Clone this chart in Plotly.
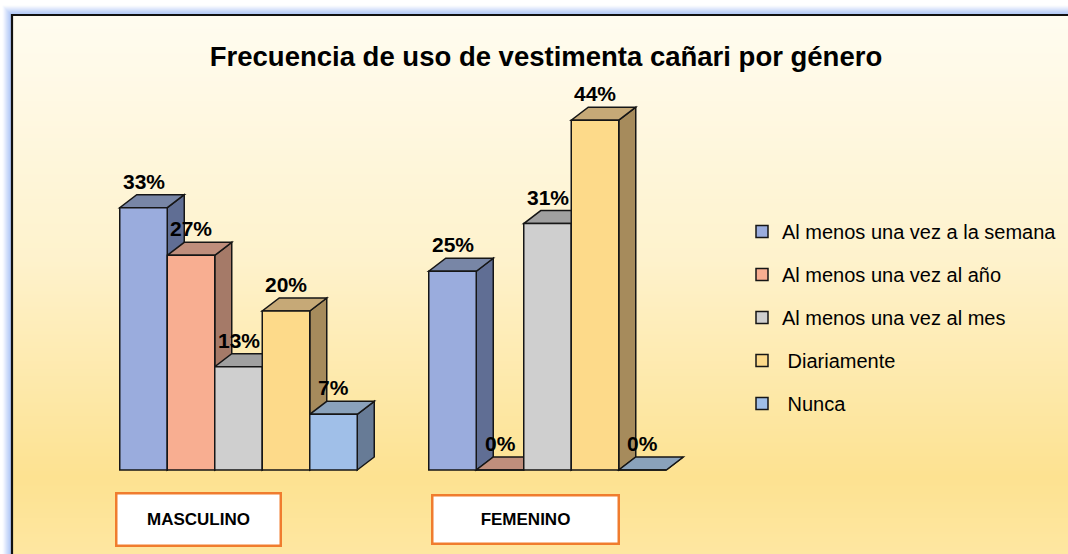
import base64, struct, zlib
import plotly.graph_objects as go

# ---------------- data ----------------
categories = ["MASCULINO", "FEMENINO"]
series_names = [
    "Al menos una vez a la semana",
    "Al menos una vez al año",
    "Al menos una vez al mes",
    " Diariamente",
    " Nunca",
]
semana = [33, 25]
anio = [27, 0]
mes = [13, 31]
diario = [20, 44]
nunca = [7, 0]
values = [semana, anio, mes, diario, nunca]
title_text = "Frecuencia de uso de vestimenta cañari por género"

# ---------------- style ----------------
W, H = 1068, 554
front = ["#9aacdd", "#f8ae91", "#cfcfcf", "#fdda8a", "#a0bfe8"]
side = ["#606e94", "#a57a68", "#8e8e8e", "#a68b5c", "#677b96"]
top = ["#7886a6", "#bf8e7c", "#a0a0a0", "#c6a977", "#8aa2bb"]
edge = "#161616"
FONT = "Liberation Sans, Arial, sans-serif"

BARGAP = 0.2314
n = len(values)
bw = (1 - BARGAP) / n
# axis geometry (pixel based)
PX_PER_UNIT = 309.0
X0 = -238.5 / PX_PER_UNIT
X1 = X0 + W / PX_PER_UNIT
PX_PER_PCT = 7.95
BASE_PX = 470
Y0 = -(H - BASE_PX) / PX_PER_PCT
Y1 = BASE_PX / PX_PER_PCT
DX = 17 / PX_PER_UNIT
DY = 13 / PX_PER_PCT


def png_gradient(stops, h):
    def col(t):
        for (t0, c0), (t1, c1) in zip(stops[:-1], stops[1:]):
            if t0 <= t <= t1:
                f = (t - t0) / (t1 - t0) if t1 > t0 else 0
                return tuple(int(round(c0[k] + (c1[k] - c0[k]) * f)) for k in range(3))
        return stops[-1][1]
    raw = b""
    for r in range(h):
        c = col(r / (h - 1))
        raw += b"\x00" + bytes(c) * 2
    def chunk(t, d):
        return struct.pack(">I", len(d)) + t + d + struct.pack(">I", zlib.crc32(t + d) & 0xFFFFFFFF)
    png = b"\x89PNG\r\n\x1a\n" + chunk(b"IHDR", struct.pack(">IIBBBBB", 2, h, 8, 2, 0, 0, 0))
    png += chunk(b"IDAT", zlib.compress(raw)) + chunk(b"IEND", b"")
    return "data:image/png;base64," + base64.b64encode(png).decode()


def hexrgb(h):
    h = h.lstrip("#")
    return tuple(int(h[i:i + 2], 16) for i in (0, 2, 4))


bg = png_gradient([
    (0.0, hexrgb("#fffcf0")),
    (0.45, hexrgb("#fef2cc")),
    (0.85, hexrgb("#fde291")),
    (1.0, hexrgb("#fee7a2")),
], 540)

fig = go.Figure()
xs = list(range(len(categories)))
for s, (name, vals) in enumerate(zip(series_names, values)):
    fig.add_trace(go.Bar(
        x=xs, y=vals, name=name, legendgroup=name,
        marker=dict(color=front[s], line=dict(color=edge, width=1.5)),
        hoverinfo="skip",
    ))

shapes = []
annotations = []
# 3D faces computed from data values
for g in xs:
    for s in range(n):
        v = values[s][g]
        xc = g + (s - (n - 1) / 2) * bw
        xl, xr = xc - bw / 2, xc + bw / 2
        side_path = f"M{xr},0 L{xr+DX},{DY} L{xr+DX},{v+DY} L{xr},{v} Z"
        top_path = f"M{xl},{v} L{xr},{v} L{xr+DX},{v+DY} L{xl+DX},{v+DY} Z"
        shapes.append(dict(type="path", xref="x", yref="y", path=side_path, layer="below",
                           fillcolor=side[s], line=dict(color=edge, width=1.5)))
        shapes.append(dict(type="path", xref="x", yref="y", path=top_path, layer="below",
                           fillcolor=top[s], line=dict(color=edge, width=1.5)))
        annotations.append(dict(x=xc, y=v + DY, xref="x", yref="y", text=f"<b>{v}%</b>",
                                showarrow=False, yanchor="bottom", yshift=0,
                                font=dict(family=FONT, size=21, color="#000000")))

# frame with blue glow
def px(x):
    return x / W


def py(y):
    return 1 - y / H


for k in range(1, 10):
    a = 0.95 * (1 - (k - 1) / 9) ** 1.3
    shapes.append(dict(type="rect", xref="paper", yref="paper", layer="below",
                       x0=px(12 - k), y0=py(H + 20), x1=px(W + 20), y1=py(15 - k),
                       line=dict(color=f"rgba(150,180,245,{a:.3f})", width=1.1),
                       fillcolor="rgba(0,0,0,0)"))
shapes.append(dict(type="rect", xref="paper", yref="paper", layer="above",
                   x0=px(12), y0=py(H + 20), x1=px(W + 20), y1=py(15),
                   line=dict(color="#111111", width=2.2), fillcolor="rgba(0,0,0,0)"))

# category boxes
box_centers = [(198.5, 519, 162, 50), (525.5, 519, 184, 46)]
for cat, (cx, cy, bwid, bht) in zip(categories, box_centers):
    annotations.append(dict(x=px(cx), y=py(cy), xref="paper", yref="paper", text=f"<b>{cat}</b>",
                            showarrow=False, xanchor="center", yanchor="middle",
                            width=bwid, height=bht, bgcolor="#ffffff",
                            bordercolor="#f07c2e", borderwidth=2.5, borderpad=0,
                            font=dict(family=FONT, size=17, color="#000000")))

fig.update_layout(
    width=W, height=H,
    margin=dict(l=0, r=0, t=0, b=0),
    paper_bgcolor="#ffffff",
    plot_bgcolor="rgba(0,0,0,0)",
    barmode="group", bargap=BARGAP, bargroupgap=0,
    xaxis=dict(range=[X0, X1], visible=False, fixedrange=True),
    yaxis=dict(range=[Y0, Y1], visible=False, fixedrange=True),
    title=dict(text=f"<b>{title_text}</b>", x=px(546), xanchor="center",
               y=py(56), yanchor="middle", yref="container",
               font=dict(family=FONT, size=27.5, color="#000000")),
    legend=dict(x=px(742), y=py(212), xanchor="left", yanchor="top",
                bgcolor="rgba(0,0,0,0)", tracegroupgap=14,
                font=dict(family=FONT, size=20, color="#000000")),
    images=[dict(source=bg, xref="paper", yref="paper", x=px(13), y=py(16),
                 sizex=px(W - 13 + 5), sizey=(H - 16 + 5) / H, sizing="stretch",
                 xanchor="left", yanchor="top", layer="below")],
    shapes=shapes,
    annotations=annotations,
    showlegend=True,
)

fig.write_html("out.html", config={"displayModeBar": False},
               post_script="document.body.style.margin='0';document.body.style.overflow='hidden';")
